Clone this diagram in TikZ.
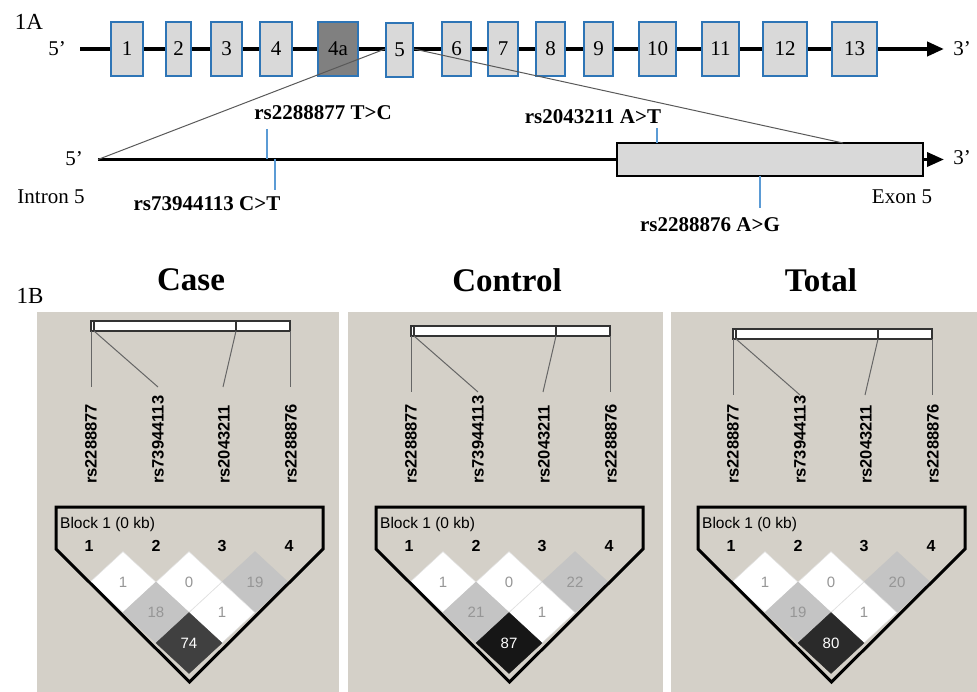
\documentclass[tikz,border=0pt]{standalone}
\usepackage{fontspec}
\setmainfont{Liberation Serif}
\setsansfont{Liberation Sans}
\usetikzlibrary{arrows.meta,shapes.geometric}
\definecolor{exonblue}{RGB}{46,117,182}
\definecolor{exongray}{RGB}{217,217,217}
\definecolor{exondark}{RGB}{128,128,128}
\definecolor{snpblue}{RGB}{91,155,213}
\definecolor{panelbg}{RGB}{212,208,200}
\definecolor{ldgray}{RGB}{196,196,196}
\definecolor{ldtext}{RGB}{150,150,150}
\definecolor{darka}{RGB}{64,64,64}
\definecolor{darkb}{RGB}{22,22,22}
\definecolor{darkc}{RGB}{42,42,42}
\begin{document}
\begin{tikzpicture}[x=1pt,y=-1pt,
  serif/.style={font=\fontsize{21}{21}\selectfont},
  exon/.style={draw=exonblue,fill=exongray,line width=2pt,minimum height=54pt,inner sep=0pt,font=\fontsize{21}{21}\selectfont},
  gene/.style={line width=4pt},
  tip/.style={-{Triangle[length=17pt,width=14pt]}},
  zoomline/.style={draw=black!65,line width=1pt},
  tick/.style={draw=snpblue,line width=2.5pt},
  snplab/.style={font=\fontsize{21}{21}\selectfont\bfseries},
  paneltitle/.style={font=\fontsize{33}{33}\selectfont\bfseries},
  markerlab/.style={font=\sffamily\fontsize{16.5}{16.5}\selectfont\bfseries,rotate=90,anchor=west,inner sep=0pt},
  num/.style={font=\sffamily\fontsize{16}{16}\selectfont\bfseries},
  blk/.style={font=\sffamily\fontsize{15.5}{15.5}\selectfont,inner sep=0pt},
  bar/.style={draw=black!80,fill=white,line width=1.2pt,minimum height=10pt,inner sep=0pt},
  link/.style={draw=black!60,line width=1pt},
  cell/.style={shape=diamond,minimum width=66pt,minimum height=61pt,inner sep=0pt,
    draw=black!12,line width=0.5pt,text=ldtext,font=\sffamily\fontsize{15}{15}\selectfont},
  block/.style={line width=3pt,line join=miter}]
\useasboundingbox (0,0) rectangle (977,692);

% 1A: gene structure
\node[serif,font=\fontsize{23}{23}\selectfont] (la) at (29,22) {1A};
\node[serif] (p5) at (57,49) {5’};
\node[serif] (p3) at (962,49) {3’};
\coordinate (g5) at (80,49);
\coordinate (g3) at (944,49);
\draw[gene,tip] (g5) -- (g3);
\node[exon,minimum width=32pt] (e1) at (127,49) {1};
\node[exon,minimum width=25pt] (e2) at (178.5,49) {2};
\node[exon,minimum width=31pt] (e3) at (226.5,49) {3};
\node[exon,minimum width=32pt] (e4) at (276,49) {4};
\node[exon,fill=exondark,minimum width=40pt] (e4a) at (338,49) {4a};
\node[exon,minimum width=27pt] (e5) at (399.5,50) {5};
\node[exon,minimum width=29pt] (e6) at (456.5,49) {6};
\node[exon,minimum width=30pt] (e7) at (503,49) {7};
\node[exon,minimum width=29pt] (e8) at (550.5,49) {8};
\node[exon,minimum width=29pt] (e9) at (598.5,49) {9};
\node[exon,minimum width=37pt] (e10) at (657.5,49) {10};
\node[exon,minimum width=37pt] (e11) at (720.5,49) {11};
\node[exon,minimum width=44pt] (e12) at (785,49) {12};
\node[exon,minimum width=45pt] (e13) at (854.5,49) {13};

% intron 5 / exon 5 close-up
\coordinate (i5) at (98,159.5);
\coordinate (i3) at (944,159.5);
\node[draw=black,fill=exongray,line width=2pt,minimum width=306pt,minimum height=33pt,inner sep=0pt] (x5) at (770,159.5) {};
\draw[gene,line width=3.5pt] (i5) -- (x5.west);
\draw[gene,line width=3.5pt,tip] (x5.east) -- (i3);
\coordinate (zr) at (843,143);
\draw[zoomline] (e5.west |- g5) -- (i5);
\draw[zoomline] (e5.east |- g5) -- (zr);
\node[serif] (q5) at (74,159) {5’};
\node[serif] (q3) at (962,158) {3’};
\node[serif] (intr) at (51,197) {Intron 5};
\node[serif] (exn) at (902,197) {Exon 5};

% SNPs
\node[snplab] (s1) at (323,113) {rs2288877 T>C};
\node[snplab] (s2) at (207,204) {rs73944113 C>T};
\node[snplab] (s3) at (593,117) {rs2043211 A>T};
\node[snplab] (s4) at (710,225) {rs2288876 A>G};
\coordinate (t1a) at (267,129); \coordinate (t1b) at (267,159.5);
\coordinate (t2a) at (275,159.5); \coordinate (t2b) at (275,190);
\coordinate (t3a) at (657,128); \coordinate (t3b) at (657,143);
\coordinate (t4a) at (760,176); \coordinate (t4b) at (760,208);
\draw[tick] (t1a) -- (t1b);
\draw[tick] (t2a) -- (t2b);
\draw[tick] (t3a) -- (t3b);
\draw[tick] (t4a) -- (t4b);

% 1B: LD plots
\node[serif,font=\fontsize{23}{23}\selectfont] (lb) at (30,296) {1B};
\foreach \p/\dx/\dy/\pl/\pr/\tx/\ttl/\ra/\rb/\rc/\dk in
  {a/0/0/37/339/191/Case/19/18/74/darka,
   b/320/5/348/663/507/Control/22/21/87/darkb,
   c/642/8/671/977/821/Total/20/19/80/darkc}{
  \fill[panelbg] (\pl,312) rectangle (\pr,692);
  \node[paneltitle] (h\p) at (\tx,280) {\ttl};
  \node[bar,minimum width=199pt] (bar\p) at (190.5+\dx,326+\dy) {};
  \draw[line width=1.2pt,black!80] (94+\dx,321+\dy) -- (94+\dx,331+\dy);
  \draw[line width=1.2pt,black!80] (236+\dx,321+\dy) -- (236+\dx,331+\dy);
  \coordinate (u1\p) at (91+\dx,331+\dy);
  \coordinate (u2\p) at (94+\dx,331+\dy);
  \coordinate (u3\p) at (236+\dx,331+\dy);
  \coordinate (u4\p) at (290+\dx,331+\dy);
  \coordinate (k1\p) at (91+\dx,387+\dy);
  \coordinate (k2\p) at (158+\dx,387+\dy);
  \coordinate (k3\p) at (223+\dx,387+\dy);
  \coordinate (k4\p) at (290+\dx,387+\dy);
  \draw[link] (u1\p) -- (k1\p);
  \draw[link] (u2\p) -- (k2\p);
  \draw[link] (u3\p) -- (k3\p);
  \draw[link] (u4\p) -- (k4\p);
  \node[markerlab] (m1\p) at (91+\dx,484) {rs2288877};
  \node[markerlab] (m2\p) at (158+\dx,484) {rs73944113};
  \node[markerlab] (m3\p) at (224+\dx,484) {rs2043211};
  \node[markerlab] (m4\p) at (291+\dx,484) {rs2288876};
  % cells
  \node[cell,fill=white] (c12\p) at (123+\dx,582) {1};
  \node[cell,fill=white] (c23\p) at (189+\dx,582) {0};
  \node[cell,fill=ldgray,draw=ldgray] (c34\p) at (255+\dx,582) {\ra};
  \node[cell,fill=ldgray,draw=ldgray] (c13\p) at (156+\dx,612.5) {\rb};
  \node[cell,fill=white] (c24\p) at (222+\dx,612.5) {1};
  \node[cell,fill=\dk,draw=\dk,text=white] (c14\p) at (189+\dx,643) {\rc};
  \draw[block] (56+\dx,507) -- (323+\dx,507) -- (323+\dx,549) -- (189.5+\dx,682) -- (56+\dx,549) -- cycle;
  \node[blk,anchor=west] (bl\p) at (60+\dx,524) {Block 1 (0 kb)};
  \node[num] (n1\p) at (89+\dx,546) {1};
  \node[num] (n2\p) at (156+\dx,546) {2};
  \node[num] (n3\p) at (222+\dx,546) {3};
  \node[num] (n4\p) at (289+\dx,546) {4};
}
\end{tikzpicture}
\end{document}
